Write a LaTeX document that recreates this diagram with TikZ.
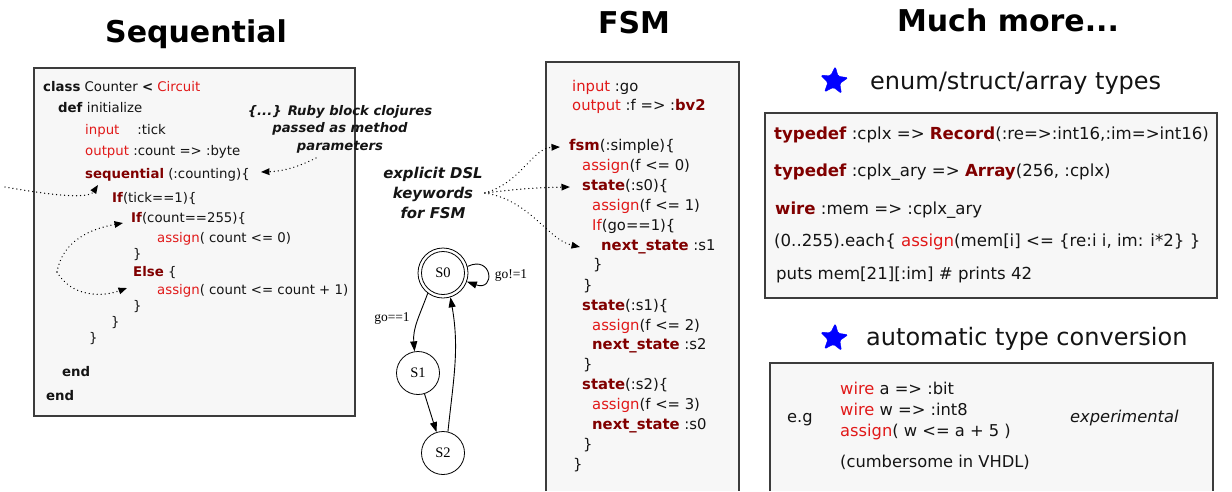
\documentclass[tikz,border=0pt]{standalone}
\usepackage{fontspec}
\setmainfont{DejaVu Sans}
\newfontfamily\tms{Liberation Serif}
\usetikzlibrary{arrows.meta,shapes.geometric}
\definecolor{cred}{RGB}{225,25,25}
\definecolor{dred}{RGB}{128,0,0}
\definecolor{boxfill}{RGB}{247,247,247}
\definecolor{boxline}{RGB}{60,60,60}
\definecolor{txt}{RGB}{20,20,20}
\newcommand{\kw}[1]{\textcolor{dred}{\textbf{#1}}}
\newcommand{\rd}[1]{\textcolor{cred}{#1}}
\newcommand{\bk}[1]{\textbf{#1}}
\begin{document}
\begin{tikzpicture}[x=1pt,y=-1pt,
  box/.style={draw=boxline, line width=1.2pt, fill=boxfill},
  lc/.style={anchor=west, inner sep=0pt, text height=9.7pt, text depth=0pt, font=\fontsize{13.3}{16}\selectfont, text=txt},
  fc/.style={lc, text height=10.8pt, font=\fontsize{14.8}{18}\selectfont},
  rc/.style={lc, text height=12pt, font=\fontsize{16.6}{20}\selectfont},
  ec/.style={lc, text height=11.9pt, font=\fontsize{16.3}{20}\selectfont},
  title/.style={anchor=base, inner sep=0pt, font=\fontsize{30}{36}\selectfont\bfseries},
  hd/.style={lc, text height=17.5pt, font=\fontsize{24}{29}\selectfont},
  note/.style={align=center, inner sep=0pt, text=txt},
  dots/.style={line width=1.4pt, dash pattern=on 0.01pt off 4pt, line cap=round, -{Triangle[length=8.5pt,width=6.5pt]}},
  st/.style={circle, draw, line width=0.8pt, inner sep=0pt, minimum size=43pt, font=\tms\fontsize{14.5}{16}\selectfont},
  fa/.style={line width=0.9pt, -{Triangle[length=10pt,width=7pt]}},
  lbl/.style={inner sep=0pt, font=\tms\fontsize{13.5}{15}\selectfont},
  star5/.style={star, star points=5, star point ratio=2.3, fill=blue, draw=blue, minimum size=29pt, inner sep=0pt, rounded corners=1.5pt, rotate=-5}
]
\path[use as bounding box] (0,0) rectangle (1232,491);

% titles
\node[title] (t1) at (196,42) {Sequential};
\node[title] (t2) at (634,33) {FSM};
\node[title] (t3) at (1008,31) {Much more...};

% ---------- Sequential box
\draw[box] (34,68) rectangle (355,416);
\node[lc] (L1) at (43,87) {\bk{class} Counter \bk{<} \rd{Circuit}};
\node[lc] (L2) at (58,108) {\bk{def} initialize};
\node[lc] (L3) at (85,130) {\rd{input}\hspace{18pt}:tick};
\node[lc] (L4) at (85,151) {\rd{output} :count => :byte};
\node[lc] (L5) at (85,174) {\kw{sequential} (:counting)\{};
\node[lc] (L6) at (112,198) {\kw{If}(tick==1)\{};
\node[lc] (L7) at (131,218) {\kw{If}(count==255)\{};
\node[lc] (L8) at (157,238) {\rd{assign}( count <= 0)};
\node[lc] (L9) at (133,254) {\}};
\node[lc] (L10) at (133,272) {\kw{Else} \{};
\node[lc] (L11) at (157,290) {\rd{assign}( count <= count + 1)};
\node[lc] (L12) at (133,306) {\}};
\node[lc] (L13) at (111,322) {\}};
\node[lc] (L14) at (89,338) {\}};
\node[lc] (L15) at (62,372) {\bk{end}};
\node[lc] (L16) at (46,396) {\bk{end}};

\node[note, font=\fontsize{13.2}{17.5}\selectfont\bfseries\itshape] (ruby) at (340,129)
  {\{...\} Ruby block clojures\\passed as method\\parameters};
\coordinate (rubyfoot) at (316,158);
\draw[dots] (rubyfoot) to[bend left=12] ([xshift=11pt,yshift=2pt]L5.east);

\coordinate (lstart) at (5,187);
\draw[dots] (lstart) .. controls (45,194) and (88,200) .. ([xshift=13pt,yshift=-11pt]L5.west);

\coordinate (ifelse) at (57,272);
\draw[dots] (ifelse) to[out=80,in=190] ([xshift=-8pt,yshift=-5pt]L7.west);
\draw[dots] (ifelse) to[out=-60,in=200] ([xshift=-6pt,yshift=-16pt]L10.west);

% ---------- FSM box
\fill[boxfill] (546,62) rectangle (739,491);
\draw[boxline, line width=1.2pt] (546,491) -- (546,62) -- (739,62) -- (739,491);
\node[fc] (F1) at (572,86) {\rd{input} :go};
\node[fc] (F2) at (572,105) {\rd{output} :f => :\kw{bv2}};
\node[fc] (F3) at (569,145) {\kw{fsm}(:simple)\{};
\node[fc] (F4) at (582,165) {\rd{assign}(f <= 0)};
\node[fc] (F5) at (582,185) {\kw{state}(:s0)\{};
\node[fc] (F6) at (592,205) {\rd{assign}(f <= 1)};
\node[fc] (F7) at (592,225) {\rd{If}(go==1)\{};
\node[fc] (F8) at (601,245) {\kw{next\_state} :s1};
\node[fc] (F9) at (593,264) {\}};
\node[fc] (F10) at (583,285) {\}};
\node[fc] (F11) at (582,305) {\kw{state}(:s1)\{};
\node[fc] (F12) at (592,325) {\rd{assign}(f <= 2)};
\node[fc] (F13) at (592,344) {\kw{next\_state} :s2};
\node[fc] (F14) at (583,364) {\}};
\node[fc] (F15) at (582,384) {\kw{state}(:s2)\{};
\node[fc] (F16) at (592,404) {\rd{assign}(f <= 3)};
\node[fc] (F17) at (592,424) {\kw{next\_state} :s0};
\node[fc] (F18) at (583,444) {\}};
\node[fc] (F19) at (573,464) {\}};

\node[note, font=\fontsize{14.9}{20}\selectfont\bfseries\itshape] (dsl) at (433,193)
  {explicit DSL\\keywords\\for FSM};
\draw[dots] ([xshift=2pt]dsl.east) .. controls (522,182) and (532,148) .. ([xshift=-9pt,yshift=-2pt]F3.west);
\draw[dots] ([xshift=2pt]dsl.east) to[bend left=3] ([xshift=-12pt,yshift=-2pt]F5.west);
\draw[dots] ([xshift=2pt]dsl.east) .. controls (530,200) and (548,240) .. ([xshift=-21pt,yshift=-2pt]F8.west);

% state diagram
\node[st] (s0) at (443,273) {S0};
\node[circle, draw, line width=0.8pt, minimum size=50pt, inner sep=0pt] (s0o) at (443,273) {};
\node[st] (s1) at (418,373) {S1};
\node[st] (s2) at (443,453) {S2};
\draw[fa] (s0o.233) to[out=250,in=95] (s1.99);
\draw[fa] (s1) -- (s2);
\draw[fa] (s2.77) to[out=84,in=280] (s0o.287);
\draw[fa] (s0o.15) .. controls +(25,-12) and +(29,10) .. (s0o.-20);
\node[lbl] (lgo1) at (511,275) {go!=1};
\node[lbl] (lgo2) at (392,318) {go==1};

% ---------- Much more
\node[star5] (star1) at (834,81) {};
\node[hd] (h1) at (870,81) {enum/struct/array types};
\draw[box] (765,113) rectangle (1217,298);
\node[rc] (R1) at (774,133) {\kw{typedef} :cplx => \kw{Record}(:re=>:int16,:im=>int16)};
\node[rc] (R2) at (774,170) {\kw{typedef} :cplx\_ary => \kw{Array}(256, :cplx)};
\node[rc] (R3) at (775,208) {\kw{wire} :mem => :cplx\_ary};
\node[rc] (R4) at (774,240) {(0..255).each\{ \rd{assign}(mem[i] <= \{re:i i, im: i*2\} \}};
\node[rc] (R5) at (776,273) {puts mem[21][:im] \# prints 42};

\node[star5] (star2) at (834,338) {};
\node[hd] (h2) at (866,337) {automatic type conversion};
\fill[boxfill] (770,363) rectangle (1213,491);
\draw[boxline, line width=1.2pt] (770,491) -- (770,363) -- (1213,363) -- (1213,491);
\node[ec] (E1) at (787,417) {e.g};
\node[ec] (W1) at (840,389) {\rd{wire} a => :bit};
\node[ec] (W2) at (840,410) {\rd{wire} w => :int8};
\node[ec] (W3) at (840,431) {\rd{assign}( w <= a + 5 )};
\node[ec] (W4) at (840,462) {(cumbersome in VHDL)};
\node[ec] (X1) at (1070,417) {\textit{experimental}};
\end{tikzpicture}
\end{document}
